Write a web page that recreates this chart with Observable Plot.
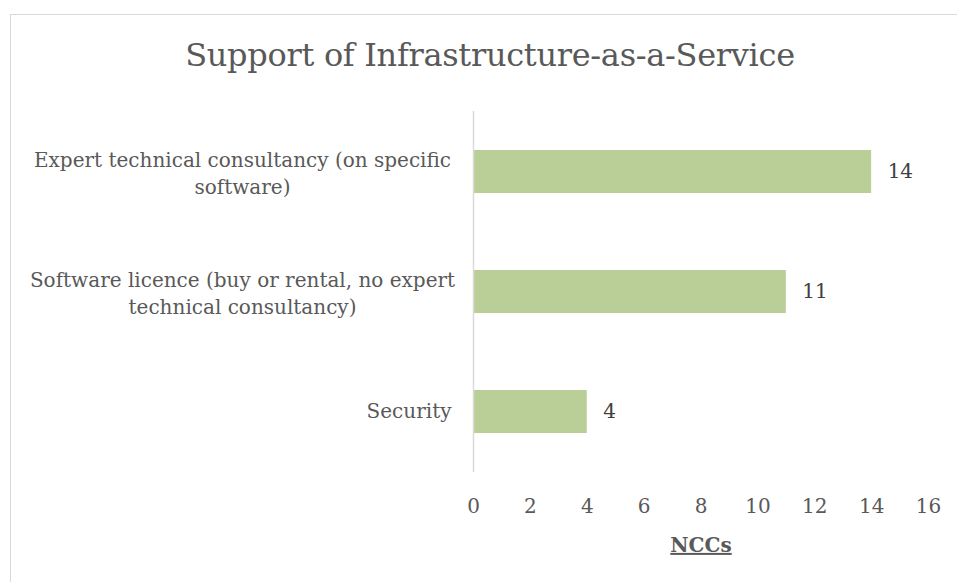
<!DOCTYPE html>
<html>
<head>
<meta charset="utf-8">
<script src="https://cdn.jsdelivr.net/npm/d3@7"></script>
<script src="https://cdn.jsdelivr.net/npm/@observablehq/plot@0.6"></script>
<style>
  html, body { margin: 0; padding: 0; background: #fff; }
  #wrap { position: relative; width: 957px; height: 582px; overflow: hidden; font-family: "DejaVu Serif", serif; }
  #frame { position: absolute; left: 10px; top: 14px; width: 1000px; height: 1000px; border-top: 1.5px solid #d9d9d9; border-left: 1.5px solid #d9d9d9; }
  #title { position: absolute; left: 0; top: 0; width: 957px; height: 100px; }
  #title div { position: absolute; left: 0; width: 980px; top: 36px; text-align: center; font-size: 32px; color: #595959; line-height: 38px; letter-spacing: -0.3px; }
  #chart { position: absolute; left: 0; top: 100px; }
</style>
</head>
<body>
<div id="wrap">
  <div id="frame"></div>
  <div id="title"><div>Support of Infrastructure-as-a-Service</div></div>
  <div id="chart"></div>
</div>
<script>
const categories = [
  "Expert technical consultancy (on specific\nsoftware)",
  "Software licence (buy or rental, no expert\ntechnical consultancy)",
  "Security"
];
const values = [14, 11, 4];
const xTicks = [0, 2, 4, 6, 8, 10, 12, 14, 16];
const xLabel = "NCCs";

const data = categories.map((c, i) => ({category: c, value: values[i]}));
const font = "DejaVu Serif, serif";

const plot = Plot.plot({
  width: 957,
  height: 482,
  marginLeft: 473,
  marginRight: 29,
  marginTop: 11,
  marginBottom: 110,
  style: {fontFamily: font, background: "transparent", overflow: "visible"},
  x: {domain: [0, 16], ticks: xTicks, axis: null},
  y: {domain: categories, paddingInner: 0.645, paddingOuter: 0.3225, axis: null},
  marks: [
    Plot.barX(data, {x: "value", y: "category", fill: "#bacf97"}),
    Plot.ruleX([0], {stroke: "#d9d9d9", strokeWidth: 1.5}),
    Plot.axisX(xTicks, {tickSize: 0, tickPadding: 26, fontSize: 20, fill: "#595959", label: null}),
    Plot.text(data.filter(d => d.category.includes("\n")), {
      y: "category", text: "category", frameAnchor: "left", textAnchor: "middle",
      dx: -231, fontSize: 20, fill: "#595959", lineHeight: 1.35, lineAnchor: "middle"
    }),
    Plot.text(data.filter(d => !d.category.includes("\n")), {
      y: "category", text: "category", frameAnchor: "left", textAnchor: "end",
      dx: -22, fontSize: 20, fill: "#595959", lineAnchor: "middle"
    }),
    Plot.text(data, {
      x: "value", y: "category", text: d => String(d.value), textAnchor: "start",
      dx: 16, fontSize: 20, fill: "#404040", lineAnchor: "middle"
    }),
    Plot.text([xLabel], {
      frameAnchor: "bottom", text: d => d, dy: 73, fontSize: 20, fontWeight: "bold",
      fill: "#595959", lineAnchor: "middle"
    })
  ]
});
d3.select(plot).selectAll("text").filter(function() { return this.textContent === xLabel; })
  .style("text-decoration", "underline");
document.getElementById("chart").appendChild(plot);
</script>
</body>
</html>
